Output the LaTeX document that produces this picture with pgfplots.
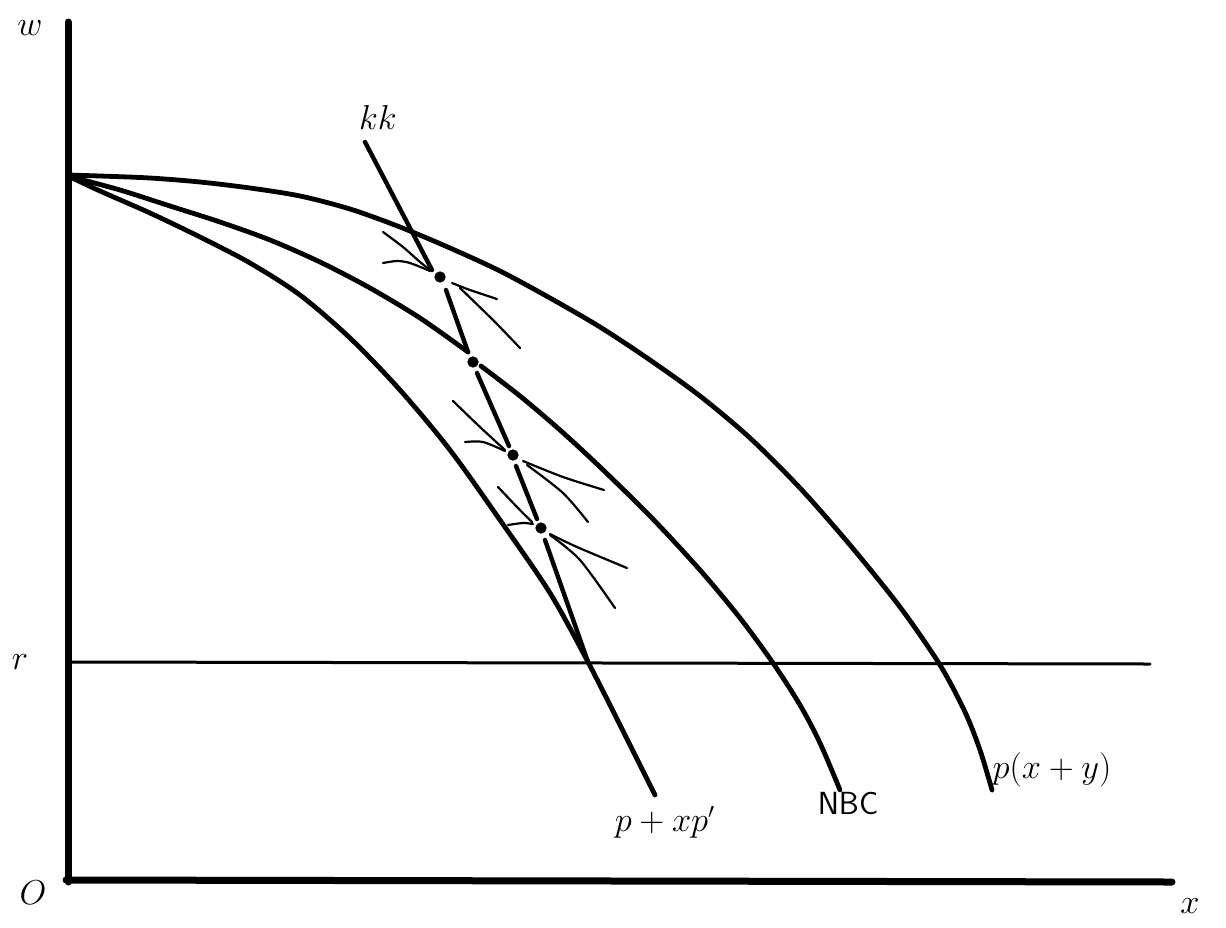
\documentclass[border=0pt]{standalone}
\usepackage{pgfplots}
\pgfplotsset{compat=1.18}
\tikzset{lab/.style={font=\fontsize{16}{19}\selectfont, inner sep=0pt}}
\begin{document}
\begin{tikzpicture}
\begin{axis}[
  scale only axis, width=613pt, height=463.5pt,
  xmin=0, xmax=1226, ymin=0, ymax=927, y dir=reverse,
  axis lines=none, clip=false,
  every axis plot/.append style={black, line cap=round, line join=round}
]
\path (axis cs:0,0) rectangle (axis cs:1226,927);
% axes
\addplot[line width=3.5pt] coordinates {(68,22) (68,882)};
\addplot[line width=3.5pt] coordinates {(66,880) (1172,882)};
% r line
\addplot[line width=1.5pt] coordinates {(68,662) (1150,664)};
% p(x+y)
\addplot[line width=2.4pt, smooth] coordinates {(68,175) (100,176) (150,178) (200,182) (250,188) (300,196) (350,209) (400,227) (450,248) (500,271) (550,298) (600,327) (650,360) (700,396) (750,438) (800,488) (850,545) (900,607) (940,665) (965,712) (980,750) (992,790)};
% NBC
\addplot[line width=2.4pt, smooth] coordinates {(68,176) (120,190) (170,206) (220,222) (270,240) (320,262) (370,288) (420,318) (468,352)};
\addplot[line width=2.4pt, smooth] coordinates {(481,366) (520,396) (560,430) (600,467) (650,516) (700,570) (740,618) (773,663) (800,705) (820,743) (840,790)};
% p + x p'
\addplot[line width=2.4pt, smooth] coordinates {(68,176) (100,191) (150,213) (200,237) (250,263) (300,295) (350,338) (400,390) (450,450) (500,520) (550,593) (588,662) (620,725) (655,795)};
% kk
\addplot[line width=2.2pt] coordinates {(365,142) (432,270)};
\addplot[line width=2.2pt] coordinates {(446,290) (468,352)};
\addplot[line width=2.2pt] coordinates {(477,373) (509,446)};
\addplot[line width=2.2pt] coordinates {(516,466) (537,519)};
\addplot[line width=2.2pt] coordinates {(545,540) (588,662)};
% dots
\addplot[only marks, mark=*, mark size=2.6pt] coordinates {(440,277) (473,362) (513,455) (541,528)};
% cross marks at dot 1
\addplot[line width=1.1pt, smooth] coordinates {(383,232) (403,247) (420,262) (430,270)};
\addplot[line width=1.1pt, smooth] coordinates {(383,263) (397,261) (410,263) (430,271)};
\addplot[line width=1.1pt, smooth] coordinates {(452,283) (470,290) (497,299)};
\addplot[line width=1.1pt, smooth] coordinates {(460,288) (493,320) (520,348)};
% cross marks at dot 3
\addplot[line width=1.1pt, smooth] coordinates {(453,401) (480,427) (505,450)};
\addplot[line width=1.1pt, smooth] coordinates {(465,442) (483,442) (505,451)};
\addplot[line width=1.1pt, smooth] coordinates {(523,461) (563,477) (604,490)};
\addplot[line width=1.1pt, smooth] coordinates {(527,465) (563,493) (588,522)};
% cross marks at dot 4
\addplot[line width=1.1pt, smooth] coordinates {(498,487) (517,507) (532,522)};
\addplot[line width=1.1pt, smooth] coordinates {(508,525) (523,523) (533,524)};
\addplot[line width=1.1pt, smooth] coordinates {(550,534) (577,547) (627,568)};
\addplot[line width=1.1pt, smooth] coordinates {(550,535) (580,560) (615,608)};
% labels
\node[lab] at (axis cs:30,28) {$w$};
\node[lab] at (axis cs:378,117) {$kk$};
\node[lab] at (axis cs:20,662) {$r$};
\node[lab] at (axis cs:33,893) {$O$};
\node[lab] at (axis cs:1190,906) {$x$};
\node[lab] at (axis cs:665,822) {$p+xp'$};
\node[lab] at (axis cs:848,803) {\textsf{NBC}};
\node[lab] at (axis cs:1052,770) {$p(x+y)$};
\end{axis}
\end{tikzpicture}
\end{document}
